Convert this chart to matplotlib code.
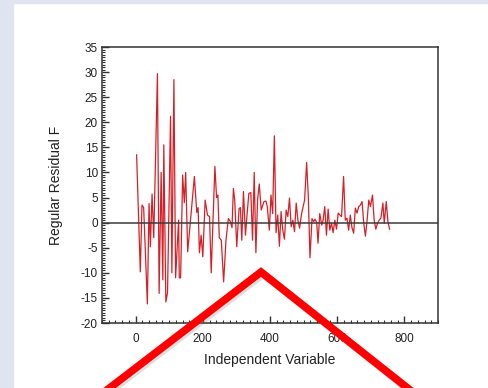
import matplotlib
matplotlib.use('Agg')
import matplotlib.pyplot as plt
import matplotlib.patheffects as pe
from matplotlib.lines import Line2D
from matplotlib.patches import Rectangle
from matplotlib.ticker import MultipleLocator

plt.rcParams['font.family'] = ['Liberation Sans', 'DejaVu Sans']
plt.rcParams['axes.unicode_minus'] = False

# residuos
x = [3, 14, 19, 24, 35, 40, 44, 49, 54, 65, 70, 76, 81, 84, 90, 95, 104, 108, 114, 119,
     128, 130, 134, 140, 145, 149, 155, 164, 175, 182, 186, 190, 195, 200, 207, 214, 220,
     225, 236, 241, 245, 249, 255, 262, 269, 276, 282, 287, 291, 295, 301, 308, 312, 316,
     321, 327, 332, 337, 343, 348, 353, 358, 363, 368, 374, 382, 388, 392, 398, 403, 408,
     413, 418, 423, 428, 433, 438, 443, 448, 453, 458, 463, 468, 473, 478, 483, 488, 494,
     503, 509, 514, 519, 525, 530, 534, 539, 543, 548, 554, 558, 563, 568, 573, 578, 583,
     588, 593, 598, 603, 608, 613, 619, 624, 629, 634, 639, 644, 649, 654, 659, 664, 669,
     674, 679, 684, 689, 694, 699, 705, 710, 715, 720, 725, 730, 736, 740, 746, 751, 756]
y = [13.5, -9.8, 3.5, 3.0, -16.2, 3.8, -4.8, 5.7, -3.0, 29.7, -14.1, 10.0, -11.4, 15.5,
     -15.8, -14.0, 21.2, -10.0, 28.5, -11.0, 0.5, -11.0, -11.0, 9.5, 4.0, 10.0, -5.8, 1.0,
     9.2, 2.0, 3.0, -6.0, -2.5, -6.8, 4.5, 1.5, 1.2, -10.0, 11.2, 5.0, 5.5, -3.0, -3.5,
     -11.8, -3.5, 0.8, 0.2, -1.0, 6.8, 4.5, -4.8, 2.8, 3.0, -3.5, 6.2, -2.5, 1.8, 5.8, 6.0,
     -3.5, 10.0, -6.0, 4.5, 7.7, 2.5, 4.2, 4.3, 3.2, -1.5, 5.5, 1.8, 17.3, -2.0, 1.5, -4.7,
     2.2, -1.5, -3.3, 2.5, 1.2, 4.9, -0.8, 0.5, -1.8, 3.9, 0.5, -1.1, 1.8, 4.5, 12.0, 5.2,
     -7.0, 0.8, 0.2, 0.7, 0.0, -4.1, 1.8, -0.5, 0.5, 3.2, -2.5, 2.7, -1.5, -0.1, -2.0, 0.5,
     -1.3, 1.9, 1.5, 1.2, 9.2, 0.5, 0.9, -1.5, 1.5, -1.0, -2.1, 2.9, 1.9, 3.2, 3.5, 4.2,
     -0.1, -2.7, 0.5, 4.5, 3.2, 5.5, 0.5, -1.3, -0.1, 0.5, 0.9, 3.9, -0.1, 4.2, 0.2, -1.3]

xticks = [0, 200, 400, 600, 800]
yticks = [-20, -15, -10, -5, 0, 5, 10, 15, 20, 25, 30, 35]

# flecha roja decorativa (coordenadas de figura)
flecha_x = [107 / 489, 261 / 489, 410 / 489]
flecha_y = [1 - 390 / 388, 1 - 272 / 388, 1 - 390 / 388]

fig = plt.figure(figsize=(4.89, 3.88), dpi=100)
fig.patch.set_facecolor('white')
fondo = '#dfe4f0'
fig.add_artist(Rectangle((0, 0), 13 / 489, 1, transform=fig.transFigure,
                         color=fondo, zorder=0))
fig.add_artist(Rectangle((0, 1 - 3 / 388), 1, 3 / 388, transform=fig.transFigure,
                         color=fondo, zorder=0))

ax = fig.add_axes([102 / 489, 65 / 388, 336 / 489, 276 / 388])
ax.plot(x, y, color='#d62028', lw=0.9)
ax.axhline(0, color='#3a3a3a', lw=1.1)

ax.set_xlim(-100, 900)
ax.set_ylim(-20, 35)
ax.set_xticks(xticks)
ax.set_yticks(yticks)
ax.xaxis.set_minor_locator(MultipleLocator(20))
ax.yaxis.set_minor_locator(MultipleLocator(0.5))
ax.tick_params(which='both', direction='in', colors='#333333', labelcolor='#222222',
               labelsize=8.5, top=False, right=False)
ax.tick_params(which='major', length=5, width=1)
ax.tick_params(which='minor', length=2.5, width=0.8)
ax.tick_params(axis='x', pad=7)
ax.tick_params(axis='y', pad=3)
for s in ax.spines.values():
    s.set_color('#333333')
    s.set_linewidth(1.1)

ax.set_xlabel('Independent Variable', fontsize=10, color='#222222', labelpad=6)
ax.set_ylabel('Regular Residual F', fontsize=10, color='#222222', labelpad=13)

flecha = Line2D(flecha_x, flecha_y, transform=fig.transFigure, color='#ff0000',
                lw=5.5, solid_joinstyle='miter', zorder=10,
                path_effects=[pe.SimpleLineShadow(offset=(1.5, -1.5), shadow_color='gray',
                                                  alpha=0.25), pe.Normal()])
fig.add_artist(flecha)

fig.savefig('out.png', dpi=100)
